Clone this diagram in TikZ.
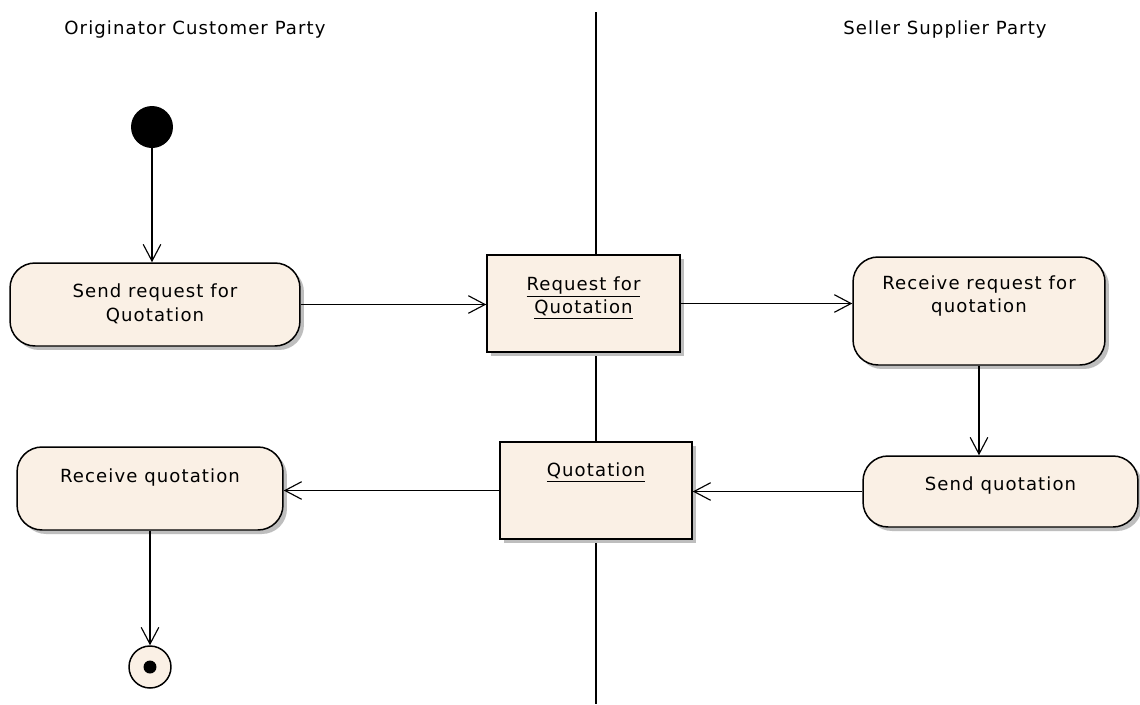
\documentclass[tikz,border=0pt]{standalone}
\usepackage{fontspec}
\setmainfont{DejaVu Sans}
\newfontfamily\umlfont[LetterSpace=6]{DejaVu Sans}
\usetikzlibrary{arrows.meta,shadows}
\definecolor{actfill}{RGB}{250,240,229}
\definecolor{shadowgray}{RGB}{190,190,190}
\begin{document}
\begin{tikzpicture}[x=0.02cm,y=-0.02cm,
  every node/.style={font=\umlfont\fontsize{10.3}{13.6}\selectfont},
  activity/.style={draw=black,line width=0.85pt,fill=actfill,rounded corners=0.5cm,
    inner sep=0pt,align=center,
    drop shadow={shadow xshift=0.08cm,shadow yshift=-0.08cm,fill=shadowgray,opacity=1}},
  objbox/.style={draw=black,line width=0.85pt,fill=actfill,inner sep=0pt,align=center,
    drop shadow={shadow xshift=0.08cm,shadow yshift=-0.08cm,fill=shadowgray,opacity=1}},
  label text/.style={align=center,inner sep=0pt},
  flow/.style={draw=black,line width=0.75pt,-{Straight Barb[length=9.5pt,width=10pt,line width=0.65pt]}},
  lane/.style={draw=black,line width=0.85pt}]
  \useasboundingbox (0,0) rectangle (1140,704);
  \fill[white] (0,0) rectangle (1140,704);

  % swimlane divider
  \coordinate (lanetop) at (596,12);
  \coordinate (lanebot) at (596,704);
  \draw[lane] (lanetop) -- (lanebot);

  % lane titles
  \node[label text] (laneA) at (195,30) {Originator Customer Party};
  \node[label text] (laneB) at (945,30) {Seller Supplier Party};

  % initial and final nodes
  \node[circle,fill=black,minimum size=0.84cm,inner sep=0pt] (init) at (152,127) {};
  \node[circle,draw=black,line width=0.85pt,fill=actfill,minimum size=0.84cm,inner sep=0pt] (final) at (150,667) {};
  \node[circle,fill=black,minimum size=0.26cm,inner sep=0pt] (finaldot) at (final) {};

  % activities
  \node[activity,minimum width=5.8cm,minimum height=1.66cm] (sr) at (155,304.5) {};
  \node[label text] (srt) at (155,304) {Send request for\\Quotation};

  \node[activity,minimum width=5.04cm,minimum height=2.16cm] (rr) at (979,311) {};
  \node[label text] (rrt) at (979,296) {Receive request for\\quotation};

  \node[activity,minimum width=5.5cm,minimum height=1.42cm] (sq) at (1000.5,491.5) {};
  \node[label text] (sqt) at (1000.5,485) {Send quotation};

  \node[activity,minimum width=5.32cm,minimum height=1.66cm] (rq) at (150,488.5) {};
  \node[label text] (rqt) at (150,477) {Receive quotation};

  % object flows
  \node[objbox,minimum width=3.86cm,minimum height=1.94cm] (rfq) at (583.5,303.5) {};
  \node[label text] (rfqt) at (583.5,298) {\underline{Request for}\\\underline{Quotation}};

  \node[objbox,minimum width=3.84cm,minimum height=1.94cm] (quo) at (596,490.5) {};
  \node[label text] (quot) at (596,473) {\underline{Quotation}};

  % control flows
  \draw[flow] (init.south) -- (init.south |- sr.north);
  \draw[flow] (sr.east) -- (rfq.west |- sr.east);
  \draw[flow] (rfq.east) -- (rr.west |- rfq.east);
  \draw[flow] (rr.south) -- (rr.south |- sq.north);
  \draw[flow] (sq.west) -- (quo.east |- sq.west);
  \draw[flow] (quo.west) -- (rq.east |- quo.west);
  \draw[flow] (rq.south) -- (rq.south |- final.north);
\end{tikzpicture}
\end{document}
